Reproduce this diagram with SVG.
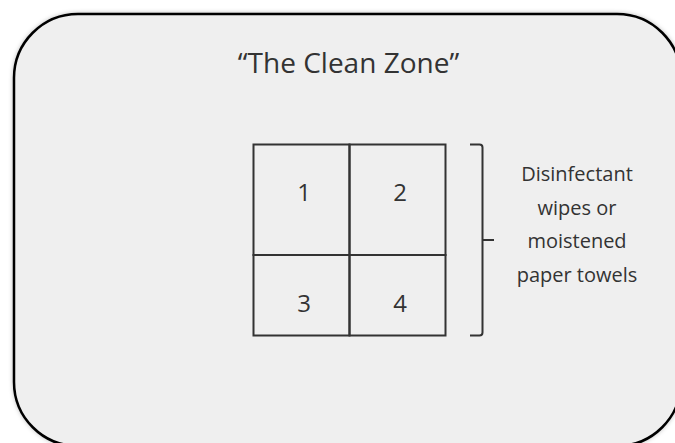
<svg xmlns="http://www.w3.org/2000/svg" width="675" height="443" viewBox="0 0 675 443">
  <defs>
    <style>
      .zone { fill: #efefef; stroke: #000000; stroke-width: 2.5; }
      .cell { fill: none; stroke: #333333; stroke-width: 2; }
      .bracket { fill: none; stroke: #333333; stroke-width: 2; }
      .txt { font-family: "Open Sans", "Noto Sans", "Liberation Sans", sans-serif; fill: #333333; text-anchor: middle; }
      .title { font-size: 28px; }
      .num { font-size: 24px; }
      .lbl { font-size: 20px; }
    </style>
    <filter id="shadow" x="-5%" y="-5%" width="110%" height="110%">
      <feDropShadow dx="0" dy="0" stdDeviation="2" flood-color="#000000" flood-opacity="0.25"/>
    </filter>
  </defs>
  <rect width="675" height="443" fill="#ffffff"/>
  <g id="clean-zone">
    <rect class="zone" x="14" y="14" width="667" height="432" rx="64" ry="64" filter="url(#shadow)"/>
    <text class="txt title" x="348.5" y="73">“The Clean Zone”</text>
  </g>
  <g id="cell-1">
    <rect class="cell" x="253.5" y="144.5" width="96" height="110.5"/>
    <text class="txt num" x="304" y="201">1</text>
  </g>
  <g id="cell-2">
    <rect class="cell" x="349.5" y="144.5" width="96" height="110.5"/>
    <text class="txt num" x="400" y="201">2</text>
  </g>
  <g id="cell-3">
    <rect class="cell" x="253.5" y="255" width="96" height="80.5"/>
    <text class="txt num" x="304" y="312">3</text>
  </g>
  <g id="cell-4">
    <rect class="cell" x="349.5" y="255" width="96" height="80.5"/>
    <text class="txt num" x="400" y="312">4</text>
  </g>
  <g id="connectors">
    <path class="bracket" d="M470,144.5 H479.5 Q482.5,144.5 482.5,147.5 V332.5 Q482.5,335.5 479.5,335.5 H470 M482.5,240 H494"/>
  </g>
  <g id="label">
    <text class="txt lbl" x="577" y="181">Disinfectant</text>
    <text class="txt lbl" x="577" y="214.5">wipes or</text>
    <text class="txt lbl" x="577" y="248">moistened</text>
    <text class="txt lbl" x="577" y="281.5">paper towels</text>
  </g>
</svg>
